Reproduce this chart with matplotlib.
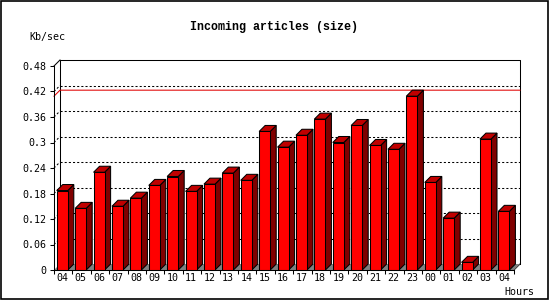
import matplotlib
matplotlib.use("Agg")
import matplotlib.pyplot as plt
from matplotlib.patches import Polygon, Rectangle

# data
hours = ["04", "05", "06", "07", "08", "09", "10", "11", "12", "13", "14", "15",
         "16", "17", "18", "19", "20", "21", "22", "23", "00", "01", "02", "03", "04"]
kb_sec = [0.187, 0.145, 0.230, 0.150, 0.169, 0.199, 0.220, 0.185, 0.202, 0.228,
          0.211, 0.326, 0.289, 0.317, 0.355, 0.300, 0.340, 0.293, 0.284, 0.409,
          0.206, 0.122, 0.018, 0.308, 0.138]
y_ticks = [0, 0.06, 0.12, 0.18, 0.24, 0.30, 0.36, 0.42, 0.48]
y_tick_labels = ["0", "0.06", "0.12", "0.18", "0.24", "0.3", "0.36", "0.42", "0.48"]

FRONT = "#ff0000"
SIDE = "#800000"
TOP = "#c00000"
FLOOR = "#808080"
LW = 0.75
MONO = "DejaVu Sans Mono"

n = len(hours)
ymax = 0.48
DX = 6 / 18.4          # depth offset in slot units
DY = 6 / 425.0         # depth offset in value units
bar_l, bar_w = 0.15, 0.6

fig = plt.figure(figsize=(5.5, 3.0), dpi=100)
ax = fig.add_axes([54 / 550, 30 / 300, 460 / 550, 204 / 300])
ax.set_xlim(0, n)
ax.set_ylim(0, ymax)
ax.patch.set_visible(False)
for s in ("top", "right"):
    ax.spines[s].set_visible(False)
for s in ("left", "bottom"):
    ax.spines[s].set_linewidth(LW)
    ax.spines[s].set_zorder(10)

# back wall: frame + dotted grid
ax.plot([DX, DX, n + DX, n + DX], [DY, ymax + DY, ymax + DY, DY],
        color="black", lw=LW, clip_on=False, zorder=1)
ax.plot([0, DX], [ymax, ymax + DY], color="black", lw=LW, clip_on=False, zorder=1)
ax.plot([n, n + DX], [0, DY], color="black", lw=LW, clip_on=False, zorder=1)
for v in y_ticks[1:-1]:
    ax.plot([DX, n + DX], [v + DY, v + DY], color="black", lw=LW,
            ls=(0, (2, 2)), clip_on=False, zorder=1)
    ax.plot([0, DX], [v, v + DY], color="black", lw=LW,
            ls=(0, (2, 2)), clip_on=False, zorder=1)

# max line
peak = max(kb_sec)
ax.plot([0, DX, n + DX], [peak, peak + DY, peak + DY], color="#e00000",
        lw=LW, clip_on=False, zorder=2)

# floor
ax.add_patch(Polygon([(0, 0), (n, 0), (n + DX, DY), (DX, DY)], closed=True,
                     facecolor=FLOOR, edgecolor="none", clip_on=False, zorder=2))

# 3d bars
for i, v in enumerate(kb_sec):
    x0 = i + bar_l
    x1 = x0 + bar_w
    side = [(x1, 0), (x1 + DX, DY), (x1 + DX, v + DY), (x1, v)]
    top = [(x0, v), (x1, v), (x1 + DX, v + DY), (x0 + DX, v + DY)]
    front = [(x0, 0), (x1, 0), (x1, v), (x0, v)]
    for pts, col in ((side, SIDE), (top, TOP), (front, FRONT)):
        ax.add_patch(Polygon(pts, closed=True, facecolor=col, edgecolor="black",
                             lw=LW, clip_on=False, zorder=3))

# ticks and labels
ax.set_yticks(y_ticks)
ax.set_yticklabels(y_tick_labels)
ax.set_xticks(range(n + 1))
ax.set_xticklabels([])
ax.set_xticks([i + 0.46 for i in range(n)], minor=True)
ax.set_xticklabels(hours, minor=True)
ax.tick_params(axis="y", direction="out", length=3, width=LW, pad=2.5,
               labelsize=7.2, labelfontfamily=MONO)
ax.tick_params(axis="x", which="major", direction="out", length=3, width=LW)
ax.tick_params(axis="x", which="minor", length=0, pad=2,
               labelsize=7.2, labelfontfamily=MONO)

fig.text(274 / 550, 1 - 27 / 300, "Incoming articles (size)", ha="center",
         va="center", fontsize=8.4, fontweight="bold", family="Liberation Mono")
fig.text(29 / 550, 1 - 37 / 300, "Kb/sec", ha="left", va="center",
         fontsize=7.2, family=MONO)
fig.text(504 / 550, 1 - 292 / 300, "Hours", ha="left", va="center",
         fontsize=7.2, family=MONO)

# outer frame
fig.add_artist(Rectangle((0.5 / 550, 1.5 / 300), 547 / 550, 297.5 / 300,
                         transform=fig.transFigure, fill=False,
                         edgecolor="black", lw=1.2))

fig.savefig("out.png", dpi=100)
